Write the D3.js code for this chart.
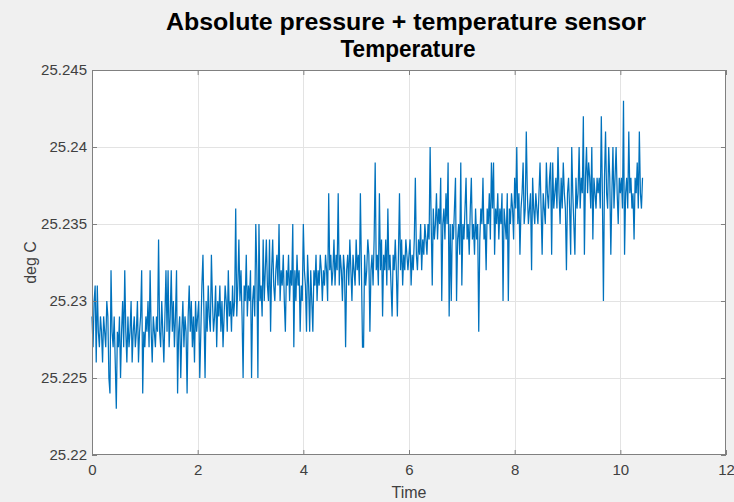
<!DOCTYPE html>
<html>
<head>
<meta charset="utf-8">
<script src="https://cdn.jsdelivr.net/npm/d3@7"></script>
<style>
  html, body { margin: 0; padding: 0; background: #f0f0f0; }
  svg { display: block; font-family: "Liberation Sans", Arial, Helvetica, sans-serif; }
</style>
</head>
<body>
<svg id="chart" width="734" height="502"></svg>
<script>
// Sensor sampling period (s); sample i is taken at i * samplePeriod
const samplePeriod = 0.02;

// Temperature readings (deg C)
const temperature = [
  25.229,25.227,25.230,25.231,25.226,25.231,25.228,25.227,25.229,25.228,25.226,25.229,25.228,25.227,25.230,25.229,25.225,25.224,25.232,25.228,
  25.227,25.229,25.226,25.223,25.228,25.227,25.229,25.225,25.228,25.230,25.227,25.232,25.228,25.226,25.229,25.227,25.228,25.230,25.226,25.228,
  25.229,25.227,25.228,25.230,25.226,25.228,25.229,25.232,25.224,25.228,25.227,25.229,25.228,25.230,25.227,25.232,25.228,25.226,25.229,25.228,
  25.227,25.229,25.228,25.234,25.228,25.227,25.230,25.228,25.226,25.229,25.232,25.228,25.232,25.227,25.229,25.232,25.228,25.230,25.227,25.229,
  25.232,25.224,25.228,25.229,25.225,25.228,25.230,25.227,25.229,25.228,25.224,25.229,25.231,25.228,25.230,25.227,25.229,25.226,25.230,25.228,
  25.229,25.230,25.225,25.228,25.231,25.233,25.229,25.225,25.230,25.228,25.231,25.229,25.228,25.233,25.230,25.228,25.229,25.231,25.227,25.230,
  25.229,25.231,25.228,25.230,25.227,25.229,25.231,25.230,25.228,25.232,25.229,25.230,25.228,25.231,25.229,25.230,25.236,25.229,25.231,25.234,
  25.230,25.232,25.229,25.225,25.231,25.230,25.233,25.229,25.231,25.230,25.232,25.225,25.230,25.231,25.229,25.235,25.232,25.225,25.235,25.230,
  25.231,25.229,25.234,25.230,25.232,25.234,25.231,25.230,25.234,25.228,25.232,25.234,25.231,25.230,25.232,25.233,25.231,25.235,25.230,25.232,
  25.231,25.233,25.230,25.228,25.232,25.231,25.233,25.230,25.232,25.231,25.235,25.227,25.232,25.230,25.233,25.231,25.232,25.228,25.231,25.230,
  25.235,25.232,25.231,25.228,25.233,25.231,25.228,25.232,25.230,25.228,25.232,25.231,25.233,25.230,25.232,25.231,25.233,25.232,25.230,25.232,
  25.231,25.233,25.232,25.230,25.237,25.232,25.233,25.231,25.232,25.234,25.231,25.233,25.232,25.237,25.231,25.233,25.232,25.230,25.233,25.232,
  25.227,25.232,25.233,25.231,25.234,25.232,25.230,25.233,25.232,25.231,25.234,25.232,25.233,25.231,25.237,25.232,25.227,25.227,25.233,25.231,
  25.232,25.234,25.233,25.228,25.232,25.233,25.231,25.234,25.239,25.232,25.233,25.231,25.237,25.232,25.234,25.229,25.233,25.232,25.234,25.231,
  25.236,25.232,25.233,25.231,25.229,25.233,25.232,25.234,25.232,25.229,25.233,25.237,25.232,25.234,25.231,25.233,25.232,25.234,25.233,25.232,
  25.233,25.234,25.231,25.233,25.232,25.234,25.238,25.233,25.232,25.234,25.233,25.235,25.232,25.234,25.233,25.235,25.234,25.233,25.235,25.234,
  25.240,25.235,25.231,25.236,25.234,25.235,25.237,25.234,25.236,25.235,25.238,25.230,25.235,25.236,25.234,25.237,25.235,25.239,25.229,25.235,
  25.230,25.235,25.234,25.236,25.238,25.230,25.234,25.235,25.233,25.239,25.231,25.235,25.234,25.236,25.238,25.234,25.235,25.233,25.236,25.238,
  25.234,25.235,25.233,25.236,25.234,25.235,25.228,25.234,25.236,25.235,25.238,25.234,25.235,25.232,25.236,25.235,25.237,25.234,25.239,25.236,
  25.239,25.233,25.236,25.235,25.237,25.234,25.236,25.235,25.237,25.230,25.236,25.235,25.234,25.237,25.230,25.236,25.235,25.237,25.236,25.234,
  25.238,25.236,25.240,25.235,25.237,25.233,25.236,25.237,25.239,25.235,25.236,25.241,25.237,25.235,25.236,25.237,25.232,25.238,25.236,25.235,
  25.237,25.236,25.235,25.237,25.239,25.236,25.233,25.237,25.236,25.235,25.239,25.237,25.236,25.238,25.239,25.233,25.239,25.236,25.237,25.238,
  25.236,25.240,25.237,25.235,25.238,25.236,25.239,25.237,25.236,25.232,25.237,25.238,25.236,25.233,25.240,25.237,25.235,25.233,25.238,25.236,
  25.237,25.240,25.236,25.238,25.237,25.242,25.233,25.238,25.240,25.237,25.239,25.238,25.236,25.240,25.234,25.238,25.237,25.236,25.238,25.237,
  25.238,25.236,25.242,25.237,25.230,25.238,25.241,25.237,25.236,25.240,25.238,25.233,25.237,25.240,25.236,25.238,25.240,25.237,25.235,25.238,
  25.237,25.238,25.236,25.243,25.233,25.237,25.238,25.236,25.241,25.237,25.238,25.236,25.237,25.234,25.238,25.237,25.239,25.236,25.241,25.237,25.236,25.238
];

// Axis ticks and labels
const xTicks = [0, 2, 4, 6, 8, 10, 12];
const xTickLabels = ["0", "2", "4", "6", "8", "10", "12"];
const yTicks = [25.22, 25.225, 25.23, 25.235, 25.24, 25.245];
const yTickLabels = ["25.22", "25.225", "25.23", "25.235", "25.24", "25.245"];

const titleLines = ["Absolute pressure + temperature sensor", "Temperature"];
const xLabel = "Time";
const yLabel = "deg C";

const svg = d3.select("#chart");
const W = 734, H = 502;
const plot = { left: 92, right: 726, top: 70, bottom: 455 };

svg.append("rect").attr("width", W).attr("height", H).attr("fill", "#f0f0f0");

const x = d3.scaleLinear().domain([0, 12]).range([plot.left, plot.right]);
const y = d3.scaleLinear().domain([25.22, 25.245]).range([plot.bottom, plot.top]);

// Axes background
svg.append("rect")
  .attr("x", plot.left).attr("y", plot.top)
  .attr("width", plot.right - plot.left).attr("height", plot.bottom - plot.top)
  .attr("fill", "#ffffff");

// Grid
const grid = svg.append("g").attr("stroke", "#e3e3e3").attr("stroke-width", 1);
grid.selectAll("line.gx").data(xTicks.slice(1, -1)).join("line")
  .attr("x1", d => Math.round(x(d)) + 0.5).attr("x2", d => Math.round(x(d)) + 0.5)
  .attr("y1", plot.top).attr("y2", plot.bottom);
grid.selectAll("line.gy").data(yTicks.slice(1, -1)).join("line")
  .attr("y1", d => Math.round(y(d)) + 0.5).attr("y2", d => Math.round(y(d)) + 0.5)
  .attr("x1", plot.left).attr("x2", plot.right);

// Signal trace
const line = d3.line()
  .x((d, i) => x(i * samplePeriod))
  .y(d => y(d));

svg.append("path")
  .datum(temperature)
  .attr("d", line)
  .attr("fill", "none")
  .attr("stroke", "#0072bd")
  .attr("stroke-width", 1.25)
  .attr("stroke-linejoin", "miter");

// Axes with inward ticks
const axisColor = "#808080";
const tickFont = 15;

const gx = svg.append("g").attr("transform", `translate(0,${plot.bottom})`)
  .call(d3.axisBottom(x).tickValues(xTicks).tickSize(-5).tickPadding(9)
    .tickFormat((d, i) => xTickLabels[i]));
const gy = svg.append("g").attr("transform", `translate(${plot.left},0)`)
  .call(d3.axisLeft(y).tickValues(yTicks).tickSize(-5).tickPadding(5)
    .tickFormat((d, i) => yTickLabels[i]));
const gxTop = svg.append("g").attr("transform", `translate(0,${plot.top})`)
  .call(d3.axisTop(x).tickValues(xTicks).tickSize(-5).tickFormat(""));
const gyRight = svg.append("g").attr("transform", `translate(${plot.right},0)`)
  .call(d3.axisRight(y).tickValues(yTicks).tickSize(-5).tickFormat(""));

[gx, gy, gxTop, gyRight].forEach(g => {
  g.select(".domain").remove();
  g.selectAll(".tick line").attr("stroke", axisColor);
  g.selectAll(".tick text")
    .attr("fill", "#404040")
    .attr("font-size", tickFont)
    .attr("font-family", "Liberation Sans, Arial, sans-serif");
});

// Box outline
svg.append("rect")
  .attr("x", plot.left + 0.5).attr("y", plot.top + 0.5)
  .attr("width", plot.right - plot.left - 1).attr("height", plot.bottom - plot.top - 1)
  .attr("fill", "none").attr("stroke", axisColor).attr("stroke-width", 1);

// Title
const cx = (plot.left + plot.right) / 2;
svg.append("text").attr("x", cx - 3).attr("y", 30)
  .attr("text-anchor", "middle").attr("font-weight", "bold").attr("font-size", 23)
  .attr("textLength", 480).attr("lengthAdjust", "spacingAndGlyphs")
  .attr("fill", "#000").text(titleLines[0]);
svg.append("text").attr("x", cx - 1).attr("y", 57)
  .attr("text-anchor", "middle").attr("font-weight", "bold").attr("font-size", 23)
  .attr("textLength", 135).attr("lengthAdjust", "spacingAndGlyphs")
  .attr("fill", "#000").text(titleLines[1]);

// Axis labels
svg.append("text").attr("x", cx).attr("y", 498)
  .attr("text-anchor", "middle").attr("font-size", 16).attr("fill", "#404040")
  .text(xLabel);
svg.append("text")
  .attr("transform", `translate(36,${(plot.top + plot.bottom) / 2}) rotate(-90)`)
  .attr("text-anchor", "middle").attr("font-size", 16).attr("fill", "#404040")
  .text(yLabel);
</script>
</body>
</html>
